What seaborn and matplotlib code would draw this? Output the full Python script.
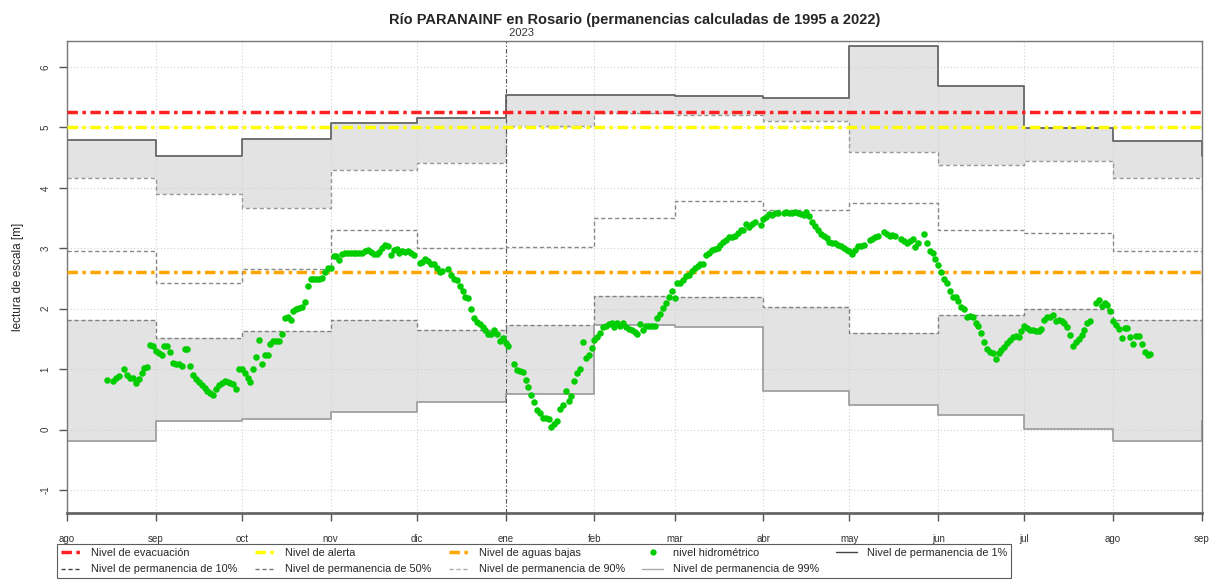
import numpy as np
import pandas as pd
import matplotlib
matplotlib.use("Agg")
import matplotlib.pyplot as plt
from matplotlib.lines import Line2D
import seaborn as sns

sns.set_theme(style="white")
plt.rcParams['font.family'] = ['Liberation Sans', 'DejaVu Sans']

# ── datos ────────────────────────────────────────────────
meses = pd.date_range("2022-08-01", "2023-09-01", freq="MS")
etiquetas_mes = ["ago", "sep", "oct", "nov", "dic", "ene", "feb",
                 "mar", "abr", "may", "jun", "jul", "ago", "sep"]

perm_01 = [4.79, 4.53, 4.81, 5.07, 5.16, 5.54, 5.54, 5.52, 5.49, 6.35, 5.69, 4.99, 4.78, 4.53]
perm_10 = [4.16, 3.90, 3.66, 4.30, 4.41, 5.03, 5.24, 5.20, 5.11, 4.60, 4.38, 4.44, 4.16, 3.90]
perm_50 = [2.95, 2.42, 2.65, 3.30, 3.00, 3.02, 3.50, 3.78, 3.63, 3.75, 3.31, 3.26, 2.95, 2.42]
perm_90 = [1.81, 1.51, 1.63, 1.81, 1.65, 1.73, 2.21, 2.20, 2.03, 1.60, 1.89, 2.00, 1.81, 1.51]
perm_99 = [-0.19, 0.15, 0.18, 0.29, 0.45, 0.59, 1.73, 1.70, 0.64, 0.41, 0.24, 0.01, -0.19, 0.15]

NIVEL_EVAC = 5.25
NIVEL_ALERTA = 5.0
NIVEL_BAJAS = 2.6

# nivel hidrométrico diario (días desde 2022-08-01)
dias = [14, 16, 17, 18, 20, 21, 22, 23, 24, 25, 26, 27, 28,
        29, 30, 31, 32, 33, 34, 35, 36, 37, 38, 39, 40, 41, 42, 43, 44, 45, 46, 47, 48, 49,
        50, 51, 52, 53, 54, 55, 56, 57, 58, 59,
        60, 61, 62, 63, 64, 65, 66, 67, 68, 69, 70, 71, 72, 73, 74, 75, 76, 77, 78, 79,
        80, 81, 82, 83, 84, 85, 86, 87, 88, 89, 90, 91, 92,
        93, 94, 95, 96, 97, 98, 99, 100, 101, 102, 103, 104, 105, 106, 107, 108, 109,
        110, 111, 112, 113, 114, 115, 116, 117, 118, 119, 120, 121, 123, 124, 125, 126,
        127, 128, 129, 130, 131, 133, 134, 135, 136, 137, 138, 139, 140, 141, 142, 143,
        144, 145, 146, 147, 148, 149, 150, 151, 152, 153, 154, 156, 157, 158, 159, 160,
        161, 162, 163, 164, 165, 166, 167, 168, 169, 170, 171, 172, 173, 174, 175, 176,
        177, 178, 179, 180, 181, 182, 183, 184, 185, 186, 187, 188, 189, 190, 191, 192,
        193, 194, 195, 196, 197, 198, 199, 200, 201, 202, 203, 204, 205, 206, 207, 208,
        209, 210, 211, 212, 213, 214, 215, 216, 217, 218, 219, 220, 221, 222, 223, 224,
        225, 226, 227, 228, 229, 230, 231, 232, 233, 234, 235, 236, 237, 238, 239, 240,
        242, 243, 244, 245, 246, 247, 248, 250, 251, 252, 253, 254, 255, 256, 257, 258,
        259, 260, 261, 262, 263, 264, 265, 266, 267, 268, 269, 270, 271, 272, 273, 274,
        275, 276, 277, 278, 280, 281, 282, 283, 285, 286, 287, 288, 289, 291, 292, 293,
        294, 295, 296, 297, 299, 300, 301, 302, 303, 304, 305, 306, 307, 308, 309, 310,
        311, 312, 313, 314, 315, 316, 317, 318, 319, 320, 321, 322, 323, 324, 325, 326,
        327, 328, 329, 330, 331, 332, 333, 334, 335, 336, 337, 338, 339, 340, 341, 342,
        343, 344, 345, 346, 347, 348, 349, 350, 351, 352, 353, 354, 355, 356, 357, 359,
        360, 361, 362, 363, 364, 365, 366, 367, 368, 369, 370, 371, 372, 373, 374, 375,
        376, 377, 378]
nivel = [0.82, 0.80, 0.85, 0.88, 1.00, 0.90, 0.86, 0.86, 0.77, 0.83, 0.93, 1.02, 1.04,
         1.40, 1.38, 1.30, 1.27, 1.23, 1.38, 1.38, 1.29, 1.11, 1.09, 1.08, 1.06, 1.34, 1.34, 1.06, 0.90, 0.83, 0.78, 0.73, 0.69, 0.64,
         0.61, 0.57, 0.67, 0.73, 0.77, 0.80, 0.78, 0.77, 0.76, 0.68,
         1.00, 1.01, 0.94, 0.86, 0.78, 1.00, 1.20, 1.48, 1.09, 1.23, 1.23, 1.41, 1.46, 1.46, 1.47, 1.58, 1.85, 1.86, 1.82, 1.96,
         2.00, 2.02, 2.03, 2.11, 2.38, 2.49, 2.50, 2.50, 2.50, 2.51, 2.60, 2.67, 2.68,
         2.87, 2.88, 2.81, 2.90, 2.92, 2.92, 2.93, 2.93, 2.92, 2.92, 2.92, 2.96, 2.98, 2.94, 2.90, 2.90, 2.94,
         3.01, 3.05, 3.04, 2.89, 2.97, 2.99, 2.92, 2.95, 2.94, 2.96, 2.93, 2.89, 2.76, 2.77, 2.83, 2.79,
         2.74, 2.74, 2.68, 2.61, 2.62, 2.65, 2.55, 2.50, 2.48, 2.37, 2.29, 2.20, 2.17, 1.99, 1.85, 1.78,
         1.75, 1.70, 1.65, 1.59, 1.59, 1.65, 1.58, 1.46, 1.52, 1.43, 1.38, 1.08, 0.98, 0.97, 0.96, 0.82,
         0.71, 0.58, 0.45, 0.32, 0.28, 0.19, 0.20, 0.18, 0.04, 0.10, 0.14, 0.34, 0.41, 0.64, 0.47, 0.56,
         0.80, 0.93, 1.01, 1.45, 1.19, 1.24, 1.35, 1.49, 1.54, 1.60, 1.70, 1.71, 1.74, 1.76, 1.70, 1.76,
         1.71, 1.76, 1.70, 1.67, 1.64, 1.61, 1.58, 1.74, 1.65, 1.72, 1.72, 1.71, 1.71, 1.84, 1.92, 2.02,
         2.09, 2.20, 2.29, 2.17, 2.42, 2.43, 2.48, 2.54, 2.56, 2.62, 2.68, 2.70, 2.74, 2.74, 2.89, 2.93,
         2.97, 2.99, 3.01, 3.05, 3.10, 3.14, 3.18, 3.19, 3.21, 3.26, 3.30, 3.30, 3.40, 3.36, 3.40, 3.44,
         3.38, 3.48, 3.51, 3.57, 3.55, 3.58, 3.59, 3.59, 3.60, 3.59, 3.59, 3.60, 3.58, 3.56, 3.55, 3.60,
         3.53, 3.44, 3.37, 3.30, 3.24, 3.21, 3.17, 3.11, 3.09, 3.08, 3.05, 3.03, 3.00, 2.98, 2.96, 2.90,
         2.98, 3.03, 3.04, 3.06, 3.14, 3.16, 3.18, 3.21, 3.27, 3.23, 3.21, 3.22, 3.21, 3.16, 3.12, 3.08,
         3.12, 3.16, 3.02, 3.08, 3.23, 3.08, 2.96, 2.93, 2.83, 2.72, 2.61, 2.50, 2.42, 2.29, 2.20, 2.20,
         2.13, 2.03, 1.99, 1.87, 1.88, 1.87, 1.77, 1.71, 1.60, 1.45, 1.34, 1.29, 1.26, 1.16, 1.27, 1.31,
         1.36, 1.43, 1.49, 1.53, 1.55, 1.53, 1.63, 1.72, 1.68, 1.65, 1.65, 1.63, 1.63, 1.67, 1.81, 1.87,
         1.87, 1.90, 1.79, 1.81, 1.79, 1.77, 1.70, 1.56, 1.39, 1.45, 1.50, 1.56, 1.65, 1.77, 1.79, 2.10,
         2.14, 2.05, 2.10, 2.06, 1.97, 1.80, 1.73, 1.66, 1.52, 1.68, 1.68, 1.53, 1.42, 1.55, 1.55, 1.41,
         1.28, 1.23, 1.25]

# ── armado ───────────────────────────────────────────────
inicio = pd.Timestamp("2022-08-01")
df_nivel = pd.DataFrame({"fecha": inicio + pd.to_timedelta(dias, unit="D"), "nivel": nivel})
df_perm = pd.DataFrame({"fecha": meses, "p01": perm_01, "p10": perm_10,
                        "p50": perm_50, "p90": perm_90, "p99": perm_99})

C_FILL = "#E3E3E3"
C_P01, C_P10, C_P50, C_P90, C_P99 = "#666666", "#999999", "#888888", "#808080", "#A0A0A0"
C_EVAC, C_ALERTA, C_BAJAS = "#FF2020", "#FFFF00", "#FFA500"
C_NIVEL = "#00CD00"
DASHDOT = (0, (3, 1.3, 1, 1.3))

fig = plt.figure(figsize=(12.10, 5.81), dpi=100)
ax = fig.add_axes([67/1210, 1 - 513/581, (1202 - 67)/1210, (513 - 41)/581])

# bandas sombreadas
ax.fill_between(df_perm["fecha"], df_perm["p10"], df_perm["p01"], step="post",
                color=C_FILL, lw=0, zorder=0.3)
ax.fill_between(df_perm["fecha"], df_perm["p99"], df_perm["p90"], step="post",
                color=C_FILL, lw=0, zorder=0.3)

# niveles de permanencia
estilos = [("p01", C_P01, "-", 1.3), ("p10", C_P10, (0, (3, 2)), 1.0),
           ("p50", C_P50, (0, (3, 2)), 1.0), ("p90", C_P90, (0, (3, 2)), 1.0),
           ("p99", C_P99, "-", 1.3)]
for col, c, ls, lw in estilos:
    sns.lineplot(data=df_perm, x="fecha", y=col, drawstyle="steps-post",
                 color=c, linestyle=ls, lw=lw, ax=ax, zorder=2)

# niveles de referencia
for nv, c in [(NIVEL_EVAC, C_EVAC), (NIVEL_ALERTA, C_ALERTA), (NIVEL_BAJAS, C_BAJAS)]:
    ax.axhline(nv, color=c, linestyle=DASHDOT, lw=2.5, zorder=3)

# cambio de año
ax.axvline(pd.Timestamp("2023-01-01"), color="#555555", linestyle=(0, (4, 2, 1, 2)),
           lw=0.8, zorder=2)
ax.text(pd.Timestamp("2023-01-01"), 6.48, " 2023", ha="left", va="bottom",
        fontsize=8, color="#333333")

# nivel hidrométrico
sns.scatterplot(data=df_nivel, x="fecha", y="nivel", color=C_NIVEL, s=22,
                linewidth=0, ax=ax, zorder=4)

# ejes
ax.set_xlim(meses[0], meses[-1])
ax.set_ylim(-1.38, 6.43)
ax.set_xticks(meses)
ax.set_xticklabels(etiquetas_mes, fontsize=7, color="#333333")
ax.set_yticks(range(-1, 7))
ax.set_yticklabels([str(v) for v in range(-1, 7)], fontsize=7, rotation=90,
                   va="center", color="#333333")
ax.tick_params(axis="both", direction="out", length=6, width=1, color="#555555",
               bottom=True, left=True)
ax.tick_params(axis="x", pad=9)
ax.tick_params(axis="y", pad=6)
ax.set_axisbelow(True)
ax.grid(True, color="#D0D0D0", linestyle=(0, (1, 2)), lw=0.8)
ax.set_xlabel("")
ax.set_ylabel("lectura de escala [m]", fontsize=8.5, labelpad=12)
for s in ["top", "right", "left"]:
    ax.spines[s].set_color("#777777")
    ax.spines[s].set_linewidth(1.0)
ax.spines["bottom"].set_color("#666666")
ax.spines["bottom"].set_linewidth(2.0)

fig.text((67 + 1202) / 2 / 1210, 1 - 20/581,
         "Río PARANAINF en Rosario (permanencias calculadas de 1995 a 2022)",
         ha="center", va="center", fontsize=10.5, fontweight="bold")

# leyenda
h = {
    "evac": Line2D([], [], color=C_EVAC, linestyle=DASHDOT, lw=2.5),
    "p10": Line2D([], [], color="#444444", linestyle=(0, (3, 2)), lw=1.0),
    "alerta": Line2D([], [], color=C_ALERTA, linestyle=DASHDOT, lw=2.5),
    "p50": Line2D([], [], color="#777777", linestyle=(0, (3, 2)), lw=1.0),
    "bajas": Line2D([], [], color=C_BAJAS, linestyle=DASHDOT, lw=2.5),
    "p90": Line2D([], [], color="#AAAAAA", linestyle=(0, (3, 2)), lw=1.0),
    "nivel": Line2D([], [], color=C_NIVEL, marker="o", linestyle="", markersize=3.5),
    "p99": Line2D([], [], color="#AAAAAA", lw=1.0),
    "p01": Line2D([], [], color="#444444", lw=1.0),
}
etiquetas = {
    "evac": "Nivel de evacuación", "p10": "Nivel de permanencia de 10%",
    "alerta": "Nivel de alerta", "p50": "Nivel de permanencia de 50%",
    "bajas": "Nivel de aguas bajas", "p90": "Nivel de permanencia de 90%",
    "nivel": "nivel hidrométrico", "p99": "Nivel de permanencia de 99%",
    "p01": "Nivel de permanencia de 1%",
}
leg = fig.legend([h[k] for k in etiquetas], list(etiquetas.values()), ncol=5,
                 loc="upper left", bbox_to_anchor=(57/1210, 1 - 544/581),
                 bbox_transform=fig.transFigure, fontsize=7.8, frameon=True,
                 fancybox=False, edgecolor="#333333", handlelength=1.9,
                 handletextpad=0.9, columnspacing=1.6, labelspacing=0.6,
                 borderpad=0.35, borderaxespad=0)
leg.get_frame().set_linewidth(0.8)

fig.savefig("out.png", dpi=100)
